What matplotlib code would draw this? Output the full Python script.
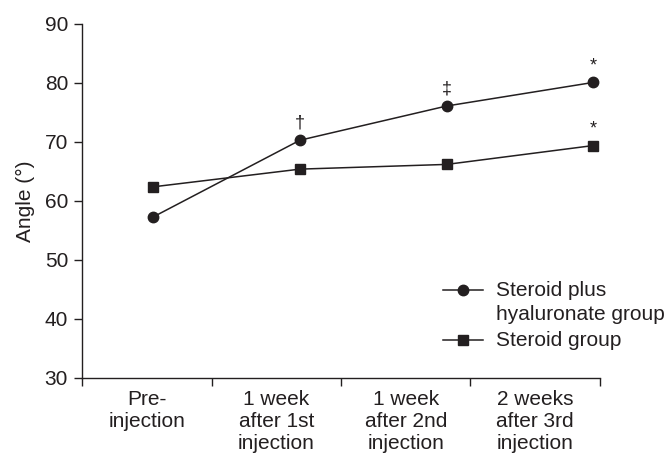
import matplotlib
matplotlib.use("Agg")
import matplotlib.pyplot as plt
from matplotlib.lines import Line2D
import numpy as np

plt.rcParams['font.family'] = ['Liberation Sans', 'DejaVu Sans']

categories = ["Pre-\ninjection", "1 week\nafter 1st\ninjection",
              "1 week\nafter 2nd\ninjection", "2 weeks\nafter 3rd\ninjection"]
combo_values = [57.3, 70.3, 76.1, 80.1]
steroid_values = [62.4, 65.4, 66.2, 69.4]
combo_marks = ["", "†", "‡", "*"]
steroid_marks = ["", "", "", "*"]
y_ticks = [30, 40, 50, 60, 70, 80, 90]

FS = 15
fig = plt.figure(figsize=(6.7, 4.57), dpi=100)
ax = fig.add_axes([0.1224, 0.1729, 0.8955 - 0.1224, 0.9475 - 0.1729])

n = len(categories)
# points span slightly differently from category slots (as in reference)
px = 0.55 + np.arange(n) * 1.133
col = "#231f20"

ax.plot(px, combo_values, color=col, lw=1.1, marker="o", ms=7.5, zorder=3)
ax.plot(px, steroid_values, color=col, lw=1.1, marker="s", ms=6.5, zorder=3)

for x, v, m in zip(px, combo_values, combo_marks):
    if m:
        ax.annotate(m, (x, v), xytext=(0, 6), textcoords="offset points",
                    ha="center", va="bottom", fontsize=13, color=col)
for x, v, m in zip(px, steroid_values, steroid_marks):
    if m:
        ax.annotate(m, (x, v), xytext=(0, 6), textcoords="offset points",
                    ha="center", va="bottom", fontsize=13, color=col)

ax.set_xlim(0, n)
ax.set_ylim(30, 90)
ax.set_yticks(y_ticks)
ax.set_xticks(np.arange(n + 1))
ax.set_xticklabels([""] * (n + 1))
ax.set_xticks(np.arange(n) + 0.5, minor=True)
ax.set_xticklabels(categories, minor=True, fontsize=FS, color=col, linespacing=1.2)
ax.tick_params(axis="x", which="minor", length=0, pad=9)
ax.tick_params(axis="x", which="major", length=6, width=1, color=col, direction="out")
ax.tick_params(axis="y", length=6, width=1, color=col, labelsize=FS, labelcolor=col, pad=4)
for s in ["top", "right"]:
    ax.spines[s].set_visible(False)
for s in ["left", "bottom"]:
    ax.spines[s].set_color(col)
    ax.spines[s].set_linewidth(1)
ax.set_ylabel("Angle (°)", fontsize=FS, color=col, labelpad=7)

# legend drawn manually
def fx(p):
    return p / 670
def fy(p):
    return 1 - p / 457
fig.add_artist(Line2D([fx(443), fx(483)], [fy(290), fy(290)], color=col, lw=1.1,
                      transform=fig.transFigure))
fig.add_artist(Line2D([fx(463)], [fy(290)], color=col, marker="o", ms=7.5, lw=0,
                      transform=fig.transFigure))
fig.add_artist(Line2D([fx(443), fx(483)], [fy(340), fy(340)], color=col, lw=1.1,
                      transform=fig.transFigure))
fig.add_artist(Line2D([fx(463)], [fy(340)], color=col, marker="s", ms=6.5, lw=0,
                      transform=fig.transFigure))
fig.text(fx(496), fy(290), "Steroid plus", fontsize=FS, color=col, va="center", ha="left")
fig.text(fx(496), fy(315), "hyaluronate group", fontsize=FS, color=col, va="center", ha="left")
fig.text(fx(496), fy(340), "Steroid group", fontsize=FS, color=col, va="center", ha="left")

fig.savefig("out.png", dpi=100)
